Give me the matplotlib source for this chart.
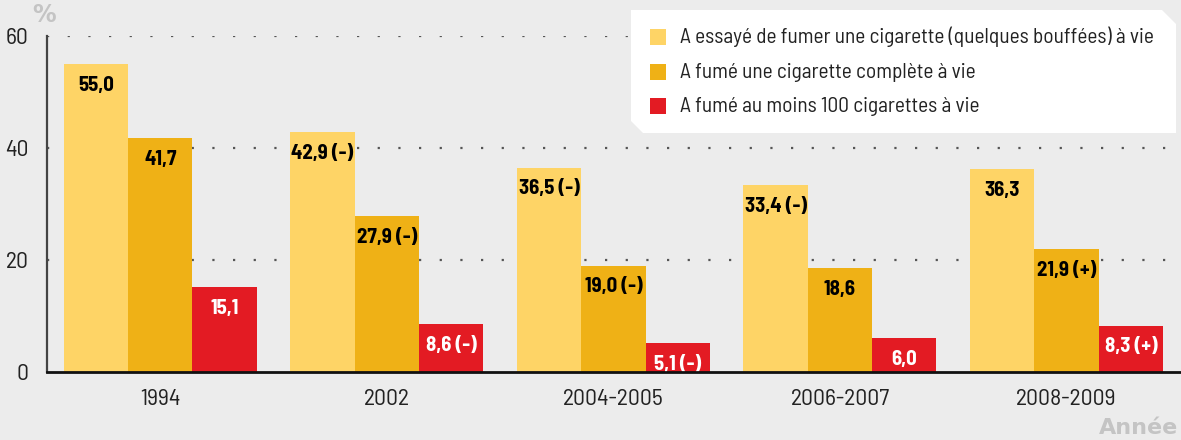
import matplotlib
matplotlib.use("Agg")
import matplotlib.pyplot as plt
from matplotlib.patches import Polygon
import numpy as np

plt.rcParams['font.family'] = ['Barlow Semi Condensed', 'DejaVu Sans']

years = ["1994", "2002", "2004-2005", "2006-2007", "2008-2009"]
series_names = [
    "A essayé de fumer une cigarette (quelques bouffées) à vie",
    "A fumé une cigarette complète à vie",
    "A fumé au moins 100 cigarettes à vie",
]
essaye = [55.0, 42.9, 36.5, 33.4, 36.3]
complete = [41.7, 27.9, 19.0, 18.6, 21.9]
cent = [15.1, 8.6, 5.1, 6.0, 8.3]
essaye_lbl = ["55,0", "42,9 (-)", "36,5 (-)", "33,4 (-)", "36,3"]
complete_lbl = ["41,7", "27,9 (-)", "19,0 (-)", "18,6", "21,9 (+)"]
cent_lbl = ["15,1", "8,6 (-)", "5,1 (-)", "6,0", "8,3 (+)"]
yticks = [0, 20, 40, 60]

colors = ["#FED466", "#EFB116", "#E31B23"]
txtcolors = ["black", "black", "white"]
bg = "#ECECEC"

fig = plt.figure(figsize=(11.81, 4.40), dpi=100, facecolor=bg)
ax = fig.add_axes([47/1181, 1-372/440, 1-47/1181 - 0.001, (372-36)/440])
ax.set_facecolor(bg)

x = np.arange(len(years))
w = 0.284
for i, (vals, lbls) in enumerate(zip([essaye, complete, cent], [essaye_lbl, complete_lbl, cent_lbl])):
    pos = x + (i - 1) * w
    ax.bar(pos, vals, width=w, color=colors[i], zorder=3, label=series_names[i])
    for px_, v, l in zip(pos, vals, lbls):
        ax.annotate(l, (px_, v), xytext=(0, -8.5), textcoords="offset points",
                    ha="center", va="top", fontsize=15, fontweight="bold",
                    color=txtcolors[i], zorder=4)

ax.set_xlim(-0.5, 4.5)
ax.set_ylim(0, 60)
ax.set_yticks(yticks)
ax.set_yticklabels([str(t) for t in yticks], fontsize=17, color="#222222")
ax.set_xticks(x)
ax.set_xticklabels(years, fontsize=17, color="#222222")
ax.tick_params(axis="both", length=0)
ax.tick_params(axis="x", pad=12)
ax.tick_params(axis="y", pad=13)

for t in [20, 40, 60]:
    ax.axhline(t, color="#555555", linestyle=(0, (1, 8.3)), linewidth=1.6, zorder=1)

for s in ["top", "right"]:
    ax.spines[s].set_visible(False)
ax.spines["left"].set_color("#444444")
ax.spines["left"].set_linewidth(1.6)
ax.spines["bottom"].set_color("#111111")
ax.spines["bottom"].set_linewidth(2)
ax.spines["bottom"].set_zorder(5)

# legend box with cut corners
W, H = 1181, 440
def fx(p): return p / W
def fy(p): return 1 - p / H
poly = Polygon([(fx(631), fy(10)), (fx(1162), fy(10)), (fx(1176), fy(24)),
                (fx(1176), fy(133)), (fx(643), fy(133)), (fx(631), fy(121))],
               closed=True, transform=fig.transFigure, facecolor="white",
               edgecolor="none", zorder=10)
fig.patches.append(poly)
rows = [37, 72, 106]
for c, name, r in zip(colors, series_names, rows):
    fig.patches.append(plt.Rectangle((fx(650), fy(r + 8)), 16/W, 16/H,
                                     transform=fig.transFigure, facecolor=c,
                                     edgecolor="none", zorder=11))
    fig.text(fx(680), fy(r), name, fontsize=15.4, color="#222222",
             ha="left", va="center", zorder=12)

fig.text(fx(32), fy(15), "%", fontsize=17, fontweight="bold", color="#C4C4C4",
         ha="left", va="center", family=["DejaVu Sans"])
fig.text(fx(1178), fy(428), "Année", fontsize=16, fontweight="bold", color="#C4C4C4",
         ha="right", va="center", family=["DejaVu Sans"])

fig.savefig("out.png", dpi=100, facecolor=bg)
